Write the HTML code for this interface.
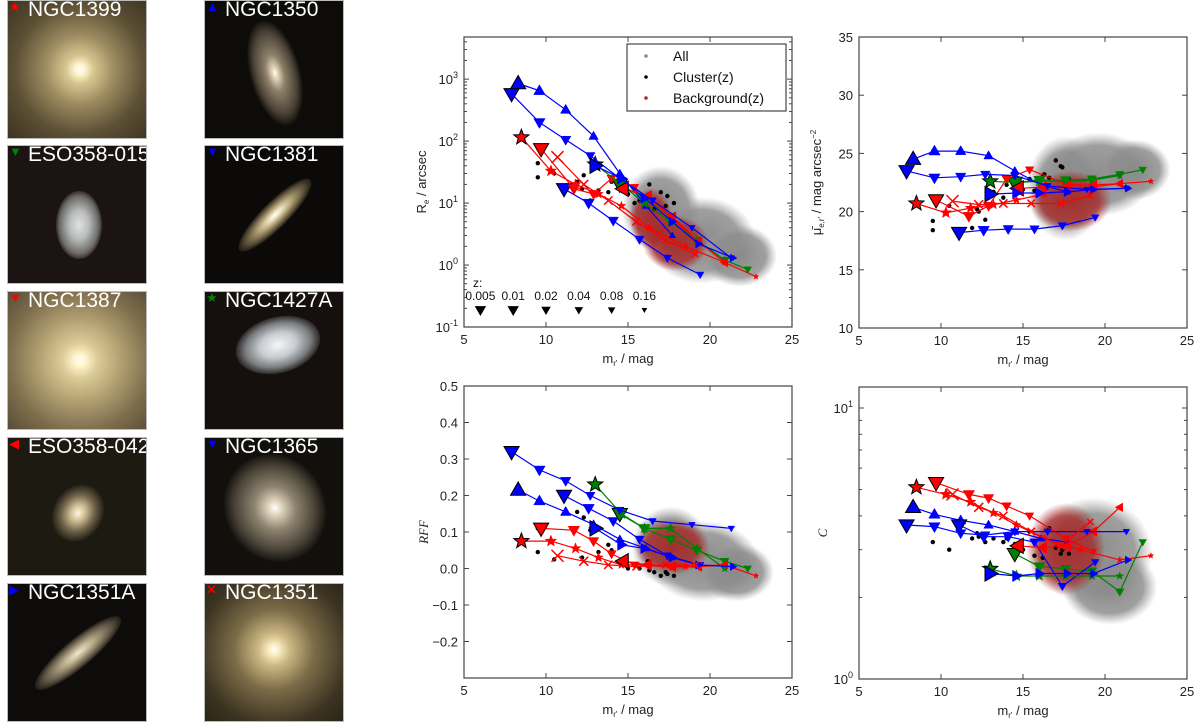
<!DOCTYPE html>
<html><head><meta charset="utf-8">
<style>
html,body{margin:0;padding:0;background:#fff;width:1200px;height:728px;overflow:hidden;font-family:"Liberation Sans",sans-serif}
.thumb{position:absolute;width:140px;height:139px;overflow:hidden;border:1px solid #bbb;box-sizing:border-box}
.glow{position:absolute;border-radius:50%}
.lbl{position:absolute;left:20px;top:-3px;color:#fff;font-size:21px;white-space:nowrap}
.mk{position:absolute;left:1px;top:-2px;font-size:13px}
svg{position:absolute;left:0;top:0}
</style></head><body>

<div class="thumb" style="left:7px;top:0;background:radial-gradient(circle at 52% 50%,#fff 0,#fff6d0 5px,#d8c690 14px,#9c8a60 35px,#5c5034 65px,#3a3222 100px)"><span class="mk" style="color:#f00">★</span><span class="lbl">NGC1399</span></div>
<div class="thumb" style="left:204px;top:0;background:#0e0c09"><div class="glow" style="left:45px;top:18px;width:50px;height:108px;transform:rotate(-15deg);background:radial-gradient(ellipse at center,#fff 0,#e8dcc0 6%,#8d806a 25%,#4a4236 55%,rgba(20,18,14,0) 72%)"></div><span class="mk" style="color:#00f">▲</span><span class="lbl">NGC1350</span></div>

<div class="thumb" style="left:7px;top:145px;background:#1c1412"><div class="glow" style="left:48px;top:45px;width:46px;height:68px;background:radial-gradient(ellipse at center,#dfe2e0 0,#b9bcbc 30%,#6c6a68 60%,rgba(30,20,18,0) 75%)"></div><span class="mk" style="color:#008000">▼</span><span class="lbl">ESO358-015</span></div>
<div class="thumb" style="left:204px;top:145px;background:#0c0a08"><div class="glow" style="left:20px;top:56px;width:100px;height:26px;transform:rotate(-45deg);background:radial-gradient(ellipse at center,#fff 0,#efe3c0 12%,#a8986e 35%,#4c4230 60%,rgba(12,10,8,0) 75%)"></div><span class="mk" style="color:#00f">▼</span><span class="lbl">NGC1381</span></div>

<div class="thumb" style="left:7px;top:291px;background:radial-gradient(circle at 52% 50%,#fff 0,#fff4cc 6px,#dccb98 18px,#b4a274 40px,#7e6e4c 70px,#4a4030 110px)"><span class="mk" style="color:#f00">▼</span><span class="lbl">NGC1387</span></div>
<div class="thumb" style="left:204px;top:291px;background:#15100e"><div class="glow" style="left:30px;top:25px;width:86px;height:56px;transform:rotate(-15deg);background:radial-gradient(ellipse at center,#f4f6f8 0,#c8ccd0 30%,#787a7c 55%,rgba(20,16,14,0) 75%)"></div><span class="mk" style="color:#008000">★</span><span class="lbl">NGC1427A</span></div>

<div class="thumb" style="left:7px;top:437px;background:#1d1a12"><div class="glow" style="left:45px;top:45px;width:50px;height:60px;transform:rotate(30deg);background:radial-gradient(ellipse at center,#fff8e0 0,#cdbd92 20%,#6e6248 45%,rgba(29,26,18,0) 72%)"></div><span class="mk" style="color:#f00">◀</span><span class="lbl">ESO358-042</span></div>
<div class="thumb" style="left:204px;top:437px;background:#12100c"><div class="glow" style="left:20px;top:15px;width:100px;height:110px;transform:rotate(-30deg);background:radial-gradient(ellipse at center,#fff 0,#e6dcc4 8%,#8e8470 28%,#4a4438 55%,rgba(18,16,12,0) 72%)"></div><span class="mk" style="color:#00f">▼</span><span class="lbl">NGC1365</span></div>

<div class="thumb" style="left:7px;top:583px;background:#0e0c0a"><div class="glow" style="left:15px;top:55px;width:110px;height:28px;transform:rotate(-40deg);background:radial-gradient(ellipse at center,#f0e8d0 0,#b8aa88 25%,#5e5444 55%,rgba(14,12,10,0) 75%)"></div><span class="mk" style="color:#00f">▶</span><span class="lbl">NGC1351A</span></div>
<div class="thumb" style="left:204px;top:583px;background:radial-gradient(circle at 50% 48%,#fff 0,#fbefc4 5px,#cdb884 16px,#7c6c48 40px,#3c3422 75px,#221e14 110px)"><span class="mk" style="color:#f00">✕</span><span class="lbl">NGC1351</span></div>

<svg id="fig" width="1200" height="728" xmlns="http://www.w3.org/2000/svg">
<defs>
<radialGradient id="gg"><stop offset="0" stop-color="#8a8a8a" stop-opacity="1"/><stop offset="0.7" stop-color="#8e8e8e" stop-opacity="0.85"/><stop offset="1" stop-color="#a0a0a0" stop-opacity="0"/></radialGradient>
<radialGradient id="gr"><stop offset="0" stop-color="#a52a2a" stop-opacity="0.95"/><stop offset="0.7" stop-color="#a52a2a" stop-opacity="0.8"/><stop offset="1" stop-color="#a52a2a" stop-opacity="0"/></radialGradient>
</defs>
</svg>

<script>
// ---------------- data ----------------
const galaxyNames = ["NGC1399","NGC1350","ESO358-015","NGC1381","NGC1387","NGC1427A","ESO358-042","NGC1365","NGC1351A","NGC1351"];
const galaxyColors = ["#ff0000","#0000ff","#008000","#0000ff","#ff0000","#008000","#ff0000","#0000ff","#0000ff","#ff0000"];
const galaxyMarkers = ["star","up","down","down","down","star","left","down","right","x"];
const trackMag = [
 [8.5,10.3,11.8,13.2,14.6,16.3,18.5,20.9,22.8],
 [8.3,9.6,11.2,12.9,14.5,16.1,17.7],
 [14.5,16.0,17.6,19.2,20.9,22.3],
 [11.1,12.6,14.1,15.7,17.4,19.4],
 [9.7,11.7,12.9,14.0,15.4,17.6,19.3],
 [13.0,14.6,16.0,17.6,19.2,20.9],
 [14.7,16.2,17.7,19.3,20.9],
 [7.9,9.6,11.2,12.7,14.5,16.5,18.9,21.3],
 [13.0,14.6,16.0,17.7,19.3,21.4],
 [10.7,12.3,13.8,15.5,17.3,19.1]
];
const trackRe = [
 [115,33,20,14,9,4,2,1.1,0.65],
 [850,650,320,120,30,9,3],
 [20,12,6,2.5,1.2,0.85],
 [17,10,5.2,2.6,1.3,0.7],
 [75,17,14,25,18,6,2.3],
 [42,20,10,5,2.5,1.2],
 [17,13,6,2.4,1.1],
 [580,200,105,58,25,11,4,1.3],
 [40,25,12,5,2.2,1.3],
 [55,20,11,5,2.5,1.5]
];
const trackMu = [
 [20.7,19.9,20.3,20.6,21.0,21.5,22.0,22.4,22.6],
 [24.5,25.2,25.2,24.8,23.5,22.3,21.7],
 [22.5,22.7,22.7,22.8,23.2,23.6],
 [18.2,18.4,18.5,18.5,18.8,19.5],
 [21.0,19.6,20.5,22.8,23.6,22.4,22.2],
 [22.6,22.5,22.6,22.6,22.7,23.1],
 [22.0,22.1,22.2,22.3,22.4],
 [23.5,22.9,23.0,23.2,23.1,22.2,21.9,22.0],
 [21.5,21.6,21.6,21.7,21.9,22.0],
 [20.9,20.6,20.7,20.7,20.7,21.4]
];
const trackRFF = [
 [0.075,0.075,0.055,0.03,0.01,0.01,0.005,0.01,-0.02],
 [0.215,0.185,0.155,0.12,0.08,0.055,0.03],
 [0.15,0.11,0.08,0.05,0.02,0.0],
 [0.2,0.165,0.13,0.08,0.035,0.01],
 [0.11,0.105,0.075,0.04,0.01,0.005,0.005],
 [0.23,0.15,0.11,0.11,0.055,0.0],
 [0.02,0.01,0.005,0.005,0.01],
 [0.32,0.27,0.24,0.2,0.16,0.13,0.12,0.11],
 [0.11,0.065,0.055,0.03,0.01,0.005],
 [0.035,0.02,0.01,0.005,0.01,0.01]
];
const trackC = [
 [5.1,4.8,4.5,4.1,3.7,3.3,3.0,2.75,2.85],
 [4.3,4.05,3.85,3.7,3.5,3.3,3.2],
 [2.9,2.6,2.55,2.5,2.1,3.2],
 [3.7,3.35,3.35,3.2,2.2,2.7],
 [5.3,4.8,4.65,4.35,4.0,3.3,2.95],
 [2.55,2.4,2.4,2.4,2.4,2.4],
 [3.1,3.05,3.1,3.5,4.3],
 [3.7,3.65,3.45,3.4,3.5,3.5,3.5,3.5],
 [2.45,2.4,2.45,2.45,2.45,2.75],
 [4.8,4.3,4.0,3.5,3.1,3.8]
];
const clusterMag = [9.5,9.5,10.5,11.9,12.3,12.7,12.2,13.2,13.8,14.0,14.5,15.0,15.4,15.7,16.2,16.3,16.6,17.0,17.3,17.4,17.8];
const clusterRe  = [44,26,30,22,28,11,17,16,15,22,18,14,10,11,12,20,8,15,9,13,10];
const clusterMu  = [19.2,18.4,20.5,18.6,20.0,19.3,20.2,21.7,21.2,22.3,23.4,21.9,22.8,21.8,23.0,23.2,22.9,24.4,23.9,23.8,22.8];
const clusterRFF = [0.045,0.11,0.025,0.155,0.14,0.105,0.03,0.045,0.065,0.05,0.02,0.0,0.01,0.0,0.02,-0.005,-0.01,-0.02,-0.01,-0.015,-0.02];
const clusterC   = [4.0,3.2,3.0,3.3,3.35,3.2,3.45,3.3,3.2,3.3,3.15,3.0,3.5,2.85,2.8,3.1,3.6,3.05,2.9,3.0,2.9];
// background clouds (centre mag, centre value, half-extent mag, half-extent value)
const cloudRe_gray = [[17.0,0.9,2.4,0.7],[19.5,0.4,3.3,0.7],[21.8,0.15,2.3,0.5]];
const cloudRe_red  = [[17.9,0.35,2.0,0.45],[16.4,0.75,1.3,0.5]];
const cloudMu_gray = [[19.6,23.2,3.4,3.6],[17.6,22.0,2.4,4.5],[21.8,23.6,2.2,2.6]];
const cloudMu_red  = [[17.9,20.9,2.5,2.6]];
const cloudRFF_gray= [[19.6,0.02,3.4,0.11],[17.6,0.06,2.4,0.11],[21.6,-0.01,2.3,0.08]];
const cloudRFF_red = [[17.7,0.06,2.3,0.075]];
const cloudC_gray  = [[19.3,0.47,3.6,0.2],[20.3,0.34,2.9,0.14]];
const cloudC_red   = [[17.6,0.48,2.4,0.17]];
const zLabels = ["0.005","0.01","0.02","0.04","0.08","0.16"];
const zMag = [6,8,10,12,14,16];

// ---------------- drawing ----------------
const NS="http://www.w3.org/2000/svg";
const svg=document.getElementById('fig');
function el(tag,attrs,parent){const e=document.createElementNS(NS,tag);for(const k in attrs)e.setAttribute(k,attrs[k]);(parent||svg).appendChild(e);return e;}

const panels=[
 {name:'re-panel',l:464,r:792,t:37,b:327,ymin:-1,ymax:3.68,log:true,vals:trackRe,cl:clusterRe,cg:cloudRe_gray,cr:cloudRe_red},
 {name:'mu-panel',l:859,r:1187,t:37,b:328,ymin:10,ymax:35,log:false,vals:trackMu,cl:clusterMu,cg:cloudMu_gray,cr:cloudMu_red},
 {name:'rff-panel',l:464,r:792,t:386,b:678,ymin:-0.3,ymax:0.5,log:false,vals:trackRFF,cl:clusterRFF,cg:cloudRFF_gray,cr:cloudRFF_red},
 {name:'c-panel',l:859,r:1187,t:387,b:679,ymin:0,ymax:1.0775,log:true,vals:trackC,cl:clusterC,cg:cloudC_gray,cr:cloudC_red}
];

function markerPath(type,x,y,s){
 if(type==='up')return `M${x},${y-s}L${x-s*0.95},${y+s*0.65}L${x+s*0.95},${y+s*0.65}Z`;
 if(type==='down')return `M${x},${y+s}L${x-s*0.95},${y-s*0.65}L${x+s*0.95},${y-s*0.65}Z`;
 if(type==='left')return `M${x-s},${y}L${x+s*0.65},${y-s*0.95}L${x+s*0.65},${y+s*0.95}Z`;
 if(type==='right')return `M${x+s},${y}L${x-s*0.65},${y-s*0.95}L${x-s*0.65},${y+s*0.95}Z`;
 if(type==='star'){let d='';for(let i=0;i<10;i++){const r=i%2?s*0.42:s;const a=-Math.PI/2+i*Math.PI/5;d+=(i?'L':'M')+(x+r*Math.cos(a)).toFixed(1)+','+(y+r*Math.sin(a)).toFixed(1);}return d+'Z';}
 const k=s*0.75;return `M${x-k},${y-k}L${x+k},${y+k}M${x-k},${y+k}L${x+k},${y-k}`;
}
const sizes=[8,6,5.5,5,4.5,4,3.5,3.5,3];

panels.forEach((p,pi)=>{
 const g=el('g',{});
 
 
 const X=m=>p.l+(m-5)/20*(p.r-p.l);
 const Y=v=>{const u=p.log?Math.log10(v):v;return p.b-(u-p.ymin)/(p.ymax-p.ymin)*(p.b-p.t);};
 const Yu=u=>p.b-(u-p.ymin)/(p.ymax-p.ymin)*(p.b-p.t);
 const clipId='clip'+pi;
 const cp=el('clipPath',{id:clipId},g);el('rect',{x:p.l,y:p.t,width:p.r-p.l,height:p.b-p.t},cp);
 el('rect',{x:p.l,y:p.t,width:p.r-p.l,height:p.b-p.t,fill:'#fff'},g);
 const pl=el('g',{'clip-path':`url(#${clipId})`},g);
 const drawCloud=(arr,grad,nm)=>arr.forEach(c=>{
   const e=el('ellipse',{cx:X(c[0]),cy:Yu(c[1]),rx:c[2]/20*(p.r-p.l),ry:c[3]/(p.ymax-p.ymin)*(p.b-p.t),fill:`url(#${grad})`},pl);
   
   
 });
 drawCloud(p.cg,'gg','all-galaxies-cloud');
 drawCloud(p.cr,'gr','background-galaxies-cloud');
 clusterMag.forEach((m,i)=>{
   const c=el('circle',{cx:X(m),cy:Y(p.cl[i]),r:2.2,fill:'#000'},pl);
   
   
 });
 galaxyNames.forEach((nm,gi)=>{
   const ms=trackMag[gi],vs=p.vals[gi];const n=Math.min(ms.length,vs.length);
   let d='';for(let i=0;i<n;i++)d+=(i?'L':'M')+X(ms[i]).toFixed(1)+','+Y(vs[i]).toFixed(1);
   const ln=el('path',{d:d,fill:'none',stroke:galaxyColors[gi],'stroke-width':1.2},pl);
   
   
   for(let i=n-1;i>=0;i--){
     const s=sizes[Math.min(i,sizes.length-1)];
     const t=galaxyMarkers[gi];
     const mk=el('path',{d:markerPath(t,X(ms[i]),Y(vs[i]),s),fill:t==='x'?'none':galaxyColors[gi],stroke:t==='x'?galaxyColors[gi]:(i===0?'#000':galaxyColors[gi]),'stroke-width':t==='x'?1.5:(i===0?1:0.5)},pl);
     
     
   }
 });
 el('rect',{x:p.l,y:p.t,width:p.r-p.l,height:p.b-p.t,fill:'none',stroke:'#444','stroke-width':1.2},g);
 [5,10,15,20,25].forEach(v=>{
   const x=X(v);
   el('line',{x1:x,x2:x,y1:p.b,y2:p.b-5,stroke:'#444'},g);el('line',{x1:x,x2:x,y1:p.t,y2:p.t+5,stroke:'#444'},g);
   const t=el('text',{x:x,y:p.b+17,'font-size':13,'text-anchor':'middle',fill:'#222'},g);t.textContent=v;
   
   
 });
 const xl=el('text',{x:(p.l+p.r)/2,y:p.b+36,'font-size':13,'text-anchor':'middle',fill:'#222'},g);
 xl.innerHTML='m<tspan font-size="8" dy="3">r\'</tspan><tspan dy="-3"> / mag</tspan>';
 
 
 let ticks=[];
 if(pi===0)ticks=[-1,0,1,2,3];else if(pi===1)ticks=[10,15,20,25,30,35];else if(pi===2)ticks=[-0.2,-0.1,0,0.1,0.2,0.3,0.4,0.5];else ticks=[0,1];
 ticks.forEach(v=>{
   const y=Yu(v);
   el('line',{x1:p.l,x2:p.l+5,y1:y,y2:y,stroke:'#444'},g);el('line',{x1:p.r,x2:p.r-5,y1:y,y2:y,stroke:'#444'},g);
   const t=el('text',{x:p.l-6,y:y+5,'font-size':13,'text-anchor':'end',fill:'#222'},g);
   if(p.log)t.innerHTML='10<tspan font-size="9" dy="-6">'+(v<0?'-':'')+Math.abs(v)+'</tspan>';
   else t.textContent=(pi===2?(v<0?'\u2212':'')+Math.abs(v).toFixed(1):v);
   
   
 });
 if(p.log){for(let dcd=Math.floor(p.ymin);dcd<p.ymax;dcd++)for(let k=2;k<10;k++){const u=dcd+Math.log10(k);if(u>p.ymax||u<p.ymin)continue;const y=Yu(u);
   el('line',{x1:p.l,x2:p.l+3,y1:y,y2:y,stroke:'#444'},g);el('line',{x1:p.r,x2:p.r-3,y1:y,y2:y,stroke:'#444'},g);}}
 const yt=el('text',{transform:`translate(${p.l-(pi===2?36:pi===3?32:38)},${(p.t+p.b)/2}) rotate(-90)`,'font-size':13,'text-anchor':'middle',fill:'#222'},g);
 if(pi===0)yt.innerHTML='R<tspan font-size="8" dy="3">e</tspan><tspan dy="-3"> / arcsec</tspan>';
 else if(pi===1)yt.innerHTML='μ̄<tspan font-size="8" dy="3">e,r\'</tspan><tspan dy="-3"> / mag arcsec</tspan><tspan font-size="8" dy="-5">−2</tspan>';
 else if(pi===2){yt.setAttribute('font-family','Liberation Serif');yt.setAttribute('font-style','italic');yt.textContent='RFF';}
 else {yt.setAttribute('font-family','Liberation Serif');yt.setAttribute('font-style','italic');yt.textContent='C';}
 
 

 if(pi===0){
   const zt=el('text',{x:473,y:287,'font-size':12,fill:'#111'},g);zt.textContent='z:';
   
   
   zMag.forEach((m,i)=>{
     const t=el('text',{x:X(m),y:300,'font-size':12,'text-anchor':'middle',fill:'#111'},g);t.textContent=zLabels[i];
     
     
     const s=[6,6,5,4.5,4,3][i];
     const mk=el('path',{d:markerPath('down',X(m),310,s),fill:'#000'},g);
     
     
   });
   const lg=el('g',{},g);
   
   
   el('rect',{x:627,y:44,width:159,height:67,fill:'#fff',stroke:'#222','stroke-width':1},lg);
   [['All','#8c8c8c',56],['Cluster(z)','#000',77],['Background(z)','#a82a2a',98]].forEach(e=>{
     const it=el('g',{},lg);
     
     
     el('circle',{cx:646,cy:e[2],r:1.8,fill:e[1]},it);
     const t=el('text',{x:673,y:e[2]+5,'font-size':14,fill:'#111'},it);t.textContent=e[0];
   });
 }
});
</script>
</body></html>
